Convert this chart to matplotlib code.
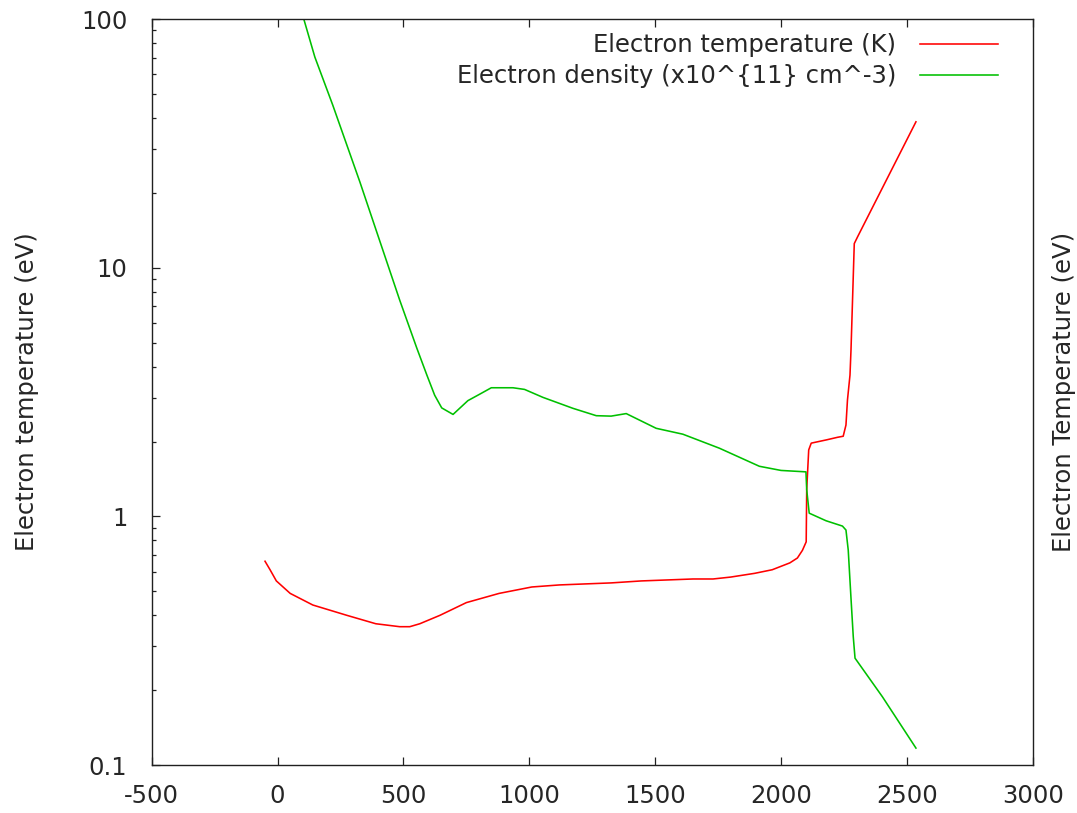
import matplotlib
matplotlib.use('Agg')
from matplotlib import pyplot as plt
from matplotlib.ticker import LogLocator, NullFormatter, FixedLocator

# Data
temp_x = [-50, -30, -5, 50, 140, 275, 390, 485, 525, 565, 645, 750, 880,
          1010, 1120, 1325, 1445, 1650, 1730, 1800, 1895, 1965, 2035, 2065,
          2085, 2100, 2102, 2110, 2120, 2180, 2225, 2247, 2258, 2264, 2274,
          2278, 2291, 2304, 2536]
temp_y = [0.66, 0.61, 0.55, 0.49, 0.44, 0.40, 0.37, 0.36, 0.36, 0.37, 0.40,
          0.45, 0.49, 0.52, 0.53, 0.54, 0.55, 0.56, 0.56, 0.57, 0.59, 0.61,
          0.65, 0.68, 0.73, 0.79, 1.28, 1.85, 1.97, 2.03, 2.08, 2.10, 2.33,
          2.94, 3.70, 4.67, 12.5, 13.3, 38.6]

dens_x = [104, 148, 219, 327, 485, 553, 593, 624, 652, 697, 756, 803, 849,
          935, 981, 1054, 1173, 1266, 1325, 1385, 1504, 1610, 1755, 1914,
          2000, 2099, 2102, 2112, 2179, 2244, 2258, 2267, 2278, 2287, 2294,
          2403, 2536]
dens_y = [100, 70.3, 45.1, 22.1, 7.41, 4.75, 3.70, 3.07, 2.73, 2.57, 2.92,
          3.10, 3.29, 3.29, 3.24, 3.01, 2.72, 2.54, 2.53, 2.59, 2.26, 2.14,
          1.88, 1.59, 1.53, 1.51, 1.28, 1.03, 0.96, 0.914, 0.881, 0.732,
          0.468, 0.328, 0.269, 0.188, 0.117]

x_ticks = [-500, 0, 500, 1000, 1500, 2000, 2500, 3000]
y_ticks = [0.1, 1, 10, 100]
y_tick_labels = ['0.1', '1', '10', '100']

FONT_SIZE = 17.5
TEXT_COLOR = '#262626'
plt.rcParams['font.family'] = ['DejaVu Sans']
plt.rcParams['font.size'] = FONT_SIZE
plt.rcParams['axes.unicode_minus'] = False

fig = plt.figure(figsize=(10.77, 8.13), dpi=100)
ax = fig.add_axes([0.1409, 0.0590, 0.8180, 0.9176])

ax.plot(temp_x, temp_y, color='#ff0000', lw=1.15,
        label='Electron temperature (K)')
ax.plot(dens_x, dens_y, color='#00c000', lw=1.15,
        label='Electron density (x10^{11} cm^-3)')

ax.set_yscale('log')
ax.set_xlim(-500, 3000)
ax.set_ylim(0.1, 100)

ax.xaxis.set_major_locator(FixedLocator(x_ticks))
ax.set_yticks(y_ticks)
ax.set_yticklabels(y_tick_labels)
ax.yaxis.set_minor_locator(LogLocator(base=10, subs=range(2, 10)))
ax.yaxis.set_minor_formatter(NullFormatter())

ax.tick_params(which='both', direction='in', top=True, right=True,
               color='#202020')
ax.tick_params(which='major', length=6, width=0.9)
ax.tick_params(which='minor', length=3.2, width=0.9)
ax.tick_params(axis='y', which='major', pad=17.5, labelcolor=TEXT_COLOR)
ax.tick_params(axis='x', which='major', pad=14, labelcolor=TEXT_COLOR)
for sp in ax.spines.values():
    sp.set_linewidth(1.0)
    sp.set_color('#202020')

ax.set_ylabel('Electron temperature (eV)', labelpad=30, color=TEXT_COLOR)

# right hand label, gnuplot style
ax2 = ax.twinx()
ax2.set_yscale('log')
ax2.set_ylim(0.1, 100)
ax2.set_yticks([])
ax2.yaxis.set_minor_locator(plt.NullLocator())
ax2.set_ylabel('Electron Temperature (eV)', rotation=90, labelpad=14,
               color=TEXT_COLOR)
for sp in ax2.spines.values():
    sp.set_visible(False)

leg = ax.legend(loc='upper right', bbox_to_anchor=(0.9689, 0.9908),
                frameon=False, markerfirst=False,
                handlelength=3.2, handletextpad=1.0, labelspacing=0.3,
                borderaxespad=0.0, borderpad=0.3, fontsize=FONT_SIZE)
for t in leg.get_texts():
    t.set_color(TEXT_COLOR)

fig.savefig('out.png', dpi=100)
